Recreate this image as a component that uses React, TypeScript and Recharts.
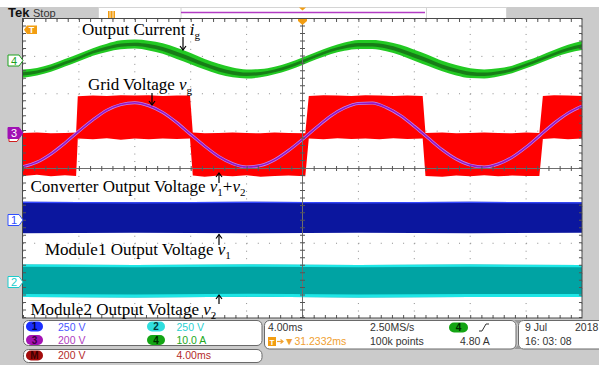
import { ComposedChart, Area, Line, XAxis, YAxis, CartesianGrid, ReferenceLine } from 'recharts';

// time in ms (4 ms/div, 10 div), values in screen divisions (8 div, centre = 0)
const times = [0, 1, 2, 3, 4, 5, 6, 7, 8, 9, 10, 11, 12, 13, 14, 15, 16, 17, 18, 19, 20,
  21, 22, 23, 24, 25, 26, 27, 28, 29, 30, 31, 32, 33, 34, 35, 36, 37, 38, 39, 40];

// ch4 output current i_g
const greenMid = [2.54, 2.59, 2.69, 2.83, 2.97, 3.12, 3.23, 3.31, 3.33, 3.29, 3.21, 3.08, 2.94, 2.79,
  2.66, 2.57, 2.53, 2.55, 2.62, 2.73, 2.87, 3.02, 3.16, 3.26, 3.32, 3.32, 3.27, 3.17, 3.03, 2.89,
  2.74, 2.63, 2.55, 2.53, 2.57, 2.65, 2.78, 2.92, 3.07, 3.2, 3.29];
const greenSpread = [0.11, 0.1, 0.1, 0.1, 0.1, 0.1, 0.11, 0.12, 0.12, 0.13, 0.14, 0.15, 0.15, 0.14,
  0.14, 0.13, 0.12, 0.11, 0.1, 0.1, 0.1, 0.1, 0.1, 0.11, 0.12, 0.12, 0.13, 0.14, 0.15, 0.15, 0.14,
  0.14, 0.13, 0.12, 0.11, 0.1, 0.1, 0.1, 0.1, 0.11, 0.12];

// ch3 grid voltage v_g
const purpleVolt = [0.05, 0.17, 0.39, 0.68, 1.0, 1.3, 1.56, 1.71, 1.76, 1.68, 1.5, 1.23, 0.91, 0.6,
  0.32, 0.13, 0.04, 0.08, 0.23, 0.48, 0.78, 1.1, 1.4, 1.62, 1.74, 1.75, 1.63, 1.42, 1.13, 0.81, 0.5,
  0.25, 0.09, 0.04, 0.12, 0.3, 0.57, 0.89, 1.21, 1.48, 1.67];

// math M: converter output v1+v2 (PWM envelope)
const redTimes = [0, 1, 2, 3, 3.8, 3.92, 5, 6, 7, 8, 9, 10, 11, 11.95, 12.15, 13, 14, 15, 16, 17, 18,
  19, 20.2, 20.45, 21.5, 22.5, 23.5, 24.5, 25.5, 26.5, 27.5, 28.6, 28.8, 30, 31, 32, 33, 34, 35, 36,
  36.95, 37.2, 38, 39, 40];
const redLow = [-0.2, -0.17, -0.21, -0.18, -0.2, 0.8, 0.78, 0.81, 0.77, 0.8, 0.78, 0.8, 0.79, 0.8,
  -0.19, -0.22, -0.19, -0.21, -0.18, -0.22, -0.2, -0.19, -0.21, 0.8, 0.78, 0.81, 0.79, 0.8, 0.78,
  0.81, 0.79, 0.8, -0.2, -0.22, -0.19, -0.21, -0.18, -0.21, -0.19, -0.2, -0.2, 0.79, 0.81, 0.78, 0.8];
const redHigh = [0.95, 0.96, 0.94, 0.95, 0.96, 1.93, 1.95, 1.94, 1.96, 1.95, 1.96, 1.94, 1.95, 1.95,
  0.96, 0.94, 0.95, 0.96, 0.95, 0.94, 0.96, 0.95, 0.94, 1.94, 1.96, 1.95, 1.94, 1.96, 1.95, 1.94,
  1.95, 1.94, 0.95, 0.96, 0.94, 0.95, 0.96, 0.95, 0.94, 0.96, 0.95, 1.94, 1.96, 1.95, 1.94];

// ch1 module1 v1, ch2 module2 v2
const bandTimes = [0, 8, 16, 24, 32, 40];
const blueHigh = [-0.89, -0.9, -0.89, -0.9, -0.89, -0.9];
const blueLow = [-1.73, -1.72, -1.73, -1.72, -1.73, -1.72];
const cyanHigh = [-2.57, -2.58, -2.57, -2.58, -2.57, -2.58];
const cyanLow = [-3.44, -3.45, -3.43, -3.45, -3.44, -3.44];

const timeTicks = [0, 4, 8, 12, 16, 20, 24, 28, 32, 36, 40];
const divTicks = [-4, -3, -2, -1, 0, 1, 2, 3, 4];

const traceRows = times.map((t, i) => ({
  t,
  outer: [greenMid[i] - greenSpread[i], greenMid[i] + greenSpread[i]],
  inner: [greenMid[i] - greenSpread[i] * 0.45, greenMid[i] + greenSpread[i] * 0.3],
  purple: purpleVolt[i],
}));
const redRows = redTimes.map((t, i) => ({ t, band: [redLow[i], redHigh[i]] }));
const blueRows = bandTimes.map((t, i) => ({
  t,
  band: [blueLow[i], blueHigh[i]],
  edge: [blueHigh[i] - 0.035, blueHigh[i]],
}));
const cyanRows = bandTimes.map((t, i) => ({
  t,
  band: [cyanLow[i], cyanHigh[i]],
  top: [cyanHigh[i] - 0.06, cyanHigh[i]],
  bottom: [cyanLow[i], cyanLow[i] + 0.08],
}));

const serif = '"Liberation Serif", "Times New Roman", serif';
const sans = '"Liberation Sans", Arial, sans-serif';
const GRAY = '#cbcbcb';

function Arrow({ x, from, to }: { x: number; from: number; to: number }) {
  const d = to > from ? -4 : 4;
  return (
    <g stroke="#000" strokeWidth={1.2} fill="none">
      <line x1={x} y1={from} x2={x} y2={to} />
      <polyline points={`${x - 3},${to + d} ${x},${to} ${x + 3},${to + d}`} />
    </g>
  );
}

function ChMarker({ y, label, color, filled }: { y: number; label: string; color: string; filled?: boolean }) {
  return (
    <g>
      <path d={`M8,${y - 5.5} h11 l4,5.5 l-4,5.5 h-11 z`} fill={filled ? color : '#fff'} stroke={color} strokeWidth={1} />
      <text x={14} y={y + 4} textAnchor="middle" fontFamily={sans} fontSize={11} fill={filled ? '#fff' : color}>{label}</text>
    </g>
  );
}

function Pill({ x, y, w, fill, label, text }: { x: number; y: number; w: number; fill: string; label: string; text: string }) {
  return (
    <g>
      <rect x={x} y={y} width={w} height={10} rx={5} fill={fill} />
      <text x={x + w / 2} y={y + 8.5} textAnchor="middle" fontFamily={sans} fontSize={10} fontWeight="bold" fill={text}>{label}</text>
    </g>
  );
}

function Frame() {
  return (
    <svg width={599} height={365} style={{ position: 'absolute', left: 0, top: 0 }}>
      <rect x={0} y={0} width={599} height={365} fill="#fff" />
      <rect x={0} y={7} width={599} height={358} fill={GRAY} />
      <rect x={23} y={19} width={559} height={299} fill="#fff" />
      <rect x={98.5} y={7.5} width={408} height={11} fill="#fff" stroke="#d4d4d4" />
      <line x1={181} y1={7.5} x2={181} y2={18.5} stroke="#d4d4d4" />
      <line x1={426.5} y1={7.5} x2={426.5} y2={18.5} stroke="#d4d4d4" />
      <line x1={181} y1={12.5} x2={425} y2={12.5} stroke="#b23cc4" strokeWidth={1.5} />
      <text x={8} y={17} fontFamily={sans} fontSize={13} fontWeight="bold" fill="#111">Tek</text>
      <text x={33} y={17} fontFamily={sans} fontSize={11} fill="#333">Stop</text>
      <rect x={108} y={11} width={7} height={7} fill="#f29d12" />
      <line x1={110} y1={11} x2={110} y2={18} stroke="#fff" strokeWidth={0.8} />
      <line x1={113} y1={11} x2={113} y2={18} stroke="#fff" strokeWidth={0.8} />
      <path d="M299,7.5 h7 l-3.5,3 z" fill="#f29d12" />
    </svg>
  );
}

function Overlay() {
  return (
    <svg width={599} height={365} style={{ position: 'absolute', left: 0, top: 0, pointerEvents: 'none' }}>
      <rect x={22.5} y={18.5} width={559.5} height={299.5} fill="none" stroke="#4a4a4a" />
      {/* trigger markers */}
      <path d="M298,19 h9 v2 l-4.5,4 l-4.5,-4 z" fill="#f29d12" />
      <path d="M24,29.75 l3,-4.25 h10 v8.5 h-10 z" fill="#f29d12" />
      <text x={31.5} y={33} textAnchor="middle" fontFamily={sans} fontSize={9} fontWeight="bold" fill="#fff">T</text>

      {/* channel markers */}
      <ChMarker y={60.5} label="4" color="#1fa21f" />
      <path d="M9,138.5 h10 l-2,3 h-8 z" fill="#fff" stroke="#d02020" strokeWidth={1} />
      <ChMarker y={133} label="3" color="#a010b4" filled />
      <ChMarker y={220} label="1" color="#3050ff" />
      <ChMarker y={282} label="2" color="#1ccccc" />

      {/* annotations */}
      <g fontFamily={serif} fontSize={17} fill="#000">
        <text x={82} y={35}>Output Current <tspan fontStyle="italic">i</tspan><tspan fontSize={11} dy={4}>g</tspan></text>
        <text x={88} y={89.5}>Grid Voltage <tspan fontStyle="italic">v</tspan><tspan fontSize={11} dy={4}>g</tspan></text>
        <text x={30.5} y={192}>Converter Output Voltage <tspan fontStyle="italic">v</tspan><tspan fontSize={11} dy={4}>1</tspan><tspan dy={-4}>+</tspan><tspan fontStyle="italic">v</tspan><tspan fontSize={11} dy={4}>2</tspan></text>
        <text x={45} y={255}>Module1 Output Voltage <tspan fontStyle="italic">v</tspan><tspan fontSize={11} dy={4}>1</tspan></text>
        <text x={30.5} y={315}>Module2 Output Voltage <tspan fontStyle="italic">v</tspan><tspan fontSize={11} dy={4}>2</tspan></text>
      </g>
      <Arrow x={183} from={37} to={50} />
      <Arrow x={152} from={93} to={105} />
      <Arrow x={219} from={183} to={173} />
      <Arrow x={219} from={245} to={234.5} />
      <Arrow x={219} from={304} to={295} />

      {/* readout panel */}
      <g fill="#fff" stroke="#6a6a6a">
        <rect x={23.5} y={320.5} width={238.5} height={25} rx={5} />
        <rect x={23.5} y={349.5} width={238.5} height={13} rx={5} />
        <rect x={264.5} y={320.5} width={251.5} height={28.5} rx={5} />
        <rect x={518.5} y={320.5} width={90} height={28.5} rx={5} />
      </g>
      <path d="M514,320 h8 l-4,4 z M514,349 h8 l-4,-4 z" fill="#9a9a9a" />
      <Pill x={26} y={321.5} w={17} fill="#1b2fff" label="1" text="#00003a" />
      <Pill x={26} y={335} w={17} fill="#a412b4" label="3" text="#3a003f" />
      <Pill x={147} y={321.5} w={18} fill="#2fdede" label="2" text="#003a3a" />
      <Pill x={147} y={335} w={18} fill="#14a514" label="4" text="#002a00" />
      <Pill x={26} y={350.5} w={17} fill="#a30c0c" label="M" text="#3a0000" />
      <Pill x={449} y={322.5} w={19} fill="#14a514" label="4" text="#002a00" />
      <g fontFamily={sans} fontSize={10.5}>
        <text x={58} y={330.5} fill="#4a58ff">250 V</text>
        <text x={176.5} y={330.5} fill="#2ad0d0">250 V</text>
        <text x={58} y={344} fill="#b03cc0">200 V</text>
        <text x={176.5} y={344} fill="#22a822">10.0 A</text>
        <text x={58} y={359} fill="#b42a2a">200 V</text>
        <text x={176.5} y={359} fill="#b42a2a">4.00ms</text>
        <text x={268} y={331} fill="#333">4.00ms</text>
        <text x={370} y={331} fill="#333">2.50MS/s</text>
        <text x={370} y={345} fill="#333">100k points</text>
        <text x={460} y={345} fill="#333">4.80 A</text>
        <text x={284} y={345} fill="#f0a030">▼31.2332ms</text>
        <text x={525} y={331} fill="#333">9 Jul</text>
        <text x={575} y={331} fill="#333">2018</text>
        <text x={525} y={345} fill="#333">16: 03: 08</text>
      </g>
      <path d="M479,331 h3 l4,-7 h3" fill="none" stroke="#333" strokeWidth={1} />
      <rect x={268} y={337} width={8} height={9} fill="#f29d12" />
      <text x={272} y={345} textAnchor="middle" fontFamily={sans} fontSize={8} fontWeight="bold" fill="#fff">T</text>
      <g stroke="#f0a030" strokeWidth={1.2} fill="none">
        <line x1={277} y1={341.5} x2={283} y2={341.5} />
        <polyline points="280.5,339.5 283,341.5 280.5,343.5" />
      </g>
    </svg>
  );
}

export default function App() {
  return (
    <div style={{ position: 'absolute', left: 0, top: 0, width: 599, height: 365 }}>
      <Frame />
      <div style={{ position: 'absolute', left: 0, top: 0 }}>
        <ComposedChart width={599} height={365} data={traceRows} margin={{ top: 19, right: 17, bottom: 47, left: 23 }}>
          <XAxis dataKey="t" type="number" domain={[0, 40]} ticks={timeTicks} hide />
          <YAxis type="number" domain={[-4, 4]} ticks={divTicks} hide />

          <Area data={blueRows} dataKey="band" type="linear" fill="#0b169e" fillOpacity={1} stroke="none" dot={false} activeDot={false} isAnimationActive={false} />
          <Area data={blueRows} dataKey="edge" type="linear" fill="#3448ff" fillOpacity={1} stroke="none" dot={false} activeDot={false} isAnimationActive={false} />
          <Area data={cyanRows} dataKey="band" type="linear" fill="#00a3a3" fillOpacity={1} stroke="none" dot={false} activeDot={false} isAnimationActive={false} />
          <Area data={cyanRows} dataKey="top" type="linear" fill="#1ee6e6" fillOpacity={1} stroke="none" dot={false} activeDot={false} isAnimationActive={false} />
          <Area data={cyanRows} dataKey="bottom" type="linear" fill="#1ee6e6" fillOpacity={1} stroke="none" dot={false} activeDot={false} isAnimationActive={false} />

          <Area dataKey="outer" type="monotone" fill="#22c922" fillOpacity={1} stroke="none" dot={false} activeDot={false} isAnimationActive={false} />
          <Area dataKey="inner" type="monotone" fill="#177d17" fillOpacity={1} stroke="none" dot={false} activeDot={false} isAnimationActive={false} />

          <Area data={redRows} dataKey="band" type="linear" fill="#ff0000" fillOpacity={1} stroke="none" dot={false} activeDot={false} isAnimationActive={false} />
          <Line dataKey="purple" type="monotone" stroke="#c184f0" strokeWidth={3} dot={false} activeDot={false} isAnimationActive={false} />
          <Line dataKey="purple" type="monotone" stroke="#9418c4" strokeWidth={1.6} dot={false} activeDot={false} isAnimationActive={false} />

          <CartesianGrid horizontal={false} stroke="#8c8c8c" strokeDasharray="1 6.475" />
          <CartesianGrid vertical={false} stroke="#8c8c8c" strokeDasharray="1 10.18" />
          <ReferenceLine y={0} stroke="#6e6e6e" />
          <ReferenceLine y={0} stroke="#555" strokeWidth={5} strokeDasharray="1 10.18" />
          <ReferenceLine x={20} stroke="#6e6e6e" />
          <ReferenceLine x={20} stroke="#555" strokeWidth={5} strokeDasharray="1 6.475" />
          <ReferenceLine y={3.96} stroke="#555" strokeWidth={3} strokeDasharray="1 10.18" />
          <ReferenceLine y={-3.96} stroke="#555" strokeWidth={3} strokeDasharray="1 10.18" />
          <ReferenceLine x={0.11} stroke="#555" strokeWidth={3} strokeDasharray="1 6.475" />
          <ReferenceLine x={39.89} stroke="#555" strokeWidth={3} strokeDasharray="1 6.475" />
        </ComposedChart>
      </div>
      <Overlay />
    </div>
  );
}
